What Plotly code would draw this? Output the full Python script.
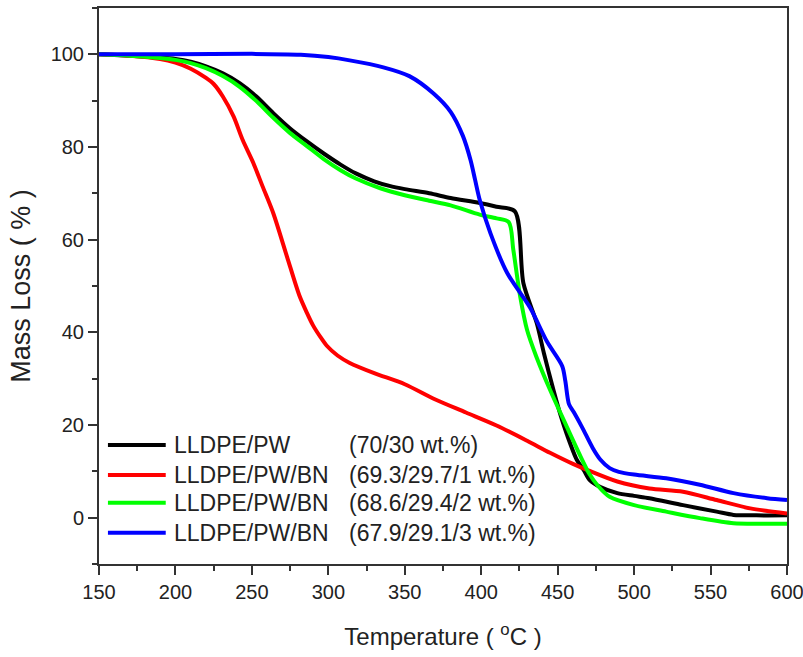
import plotly.graph_objects as go

# ---------------- data ----------------
temp_black = [150, 170, 190, 200, 210, 220, 231, 242, 253, 264, 275, 286, 297, 308, 318, 330, 340, 350, 366, 380,
              399, 410, 422, 427.6, 436.3, 441, 447.2, 452, 456, 462.5, 467, 471, 478, 489, 500, 510, 532, 554,
              565, 580, 600]
mass_black = [100, 99.7, 99.3, 99.0, 98.4, 97.4, 95.9, 93.8, 90.9, 87.3, 84.0, 81.2, 78.6, 76.2, 74.3, 72.6, 71.6,
              70.9, 70.0, 69.0, 67.9, 67.1, 66.1, 50.6, 42.0, 35.5, 27.6, 22.0, 18.0, 12.5, 10.3, 8.1, 6.6, 5.3,
              4.7, 4.2, 2.7, 1.3, 0.6, 0.5, 0.5]

temp_red = [150, 170, 190, 200, 210, 220, 225, 231, 238, 244, 251, 257, 264, 273, 281, 286, 290, 295, 299, 306,
            314, 330, 350, 370, 390, 410, 430, 445, 460, 470, 489, 510, 532, 554, 576, 600]
mass_red = [100, 99.7, 99.0, 98.2, 96.9, 94.9, 93.6, 90.9, 86.6, 81.5, 76.5, 71.5, 65.7, 56.3, 48.0, 44.2, 41.5,
            38.9, 37.1, 35.0, 33.4, 31.2, 28.8, 25.5, 22.7, 19.9, 16.6, 14.0, 11.6, 10.2, 7.8, 6.3, 5.6, 3.8,
            2.0, 0.9]

temp_green = [150, 170, 190, 200, 210, 220, 231, 242, 253, 264, 275, 286, 297, 308, 318, 334, 350, 366, 380, 399,
              410, 418, 421, 425.5, 430, 436, 445, 456, 465, 471, 476, 484, 500, 521, 543, 565, 585, 600]
mass_green = [100, 99.7, 99.2, 98.8, 98.1, 97.0, 95.3, 93.0, 89.9, 86.3, 83.0, 80.2, 77.4, 75.0, 73.2, 71.1, 69.6,
              68.4, 67.4, 65.4, 64.6, 63.8, 57.8, 47.7, 40.5, 34.8, 27.6, 19.6, 13.2, 9.3, 7.0, 4.5, 2.7, 1.3,
              -0.1, -1.2, -1.3, -1.3]

temp_blue = [150, 200, 250, 282, 300, 314, 336, 353, 369, 380, 388, 393, 396, 399, 406, 417, 432, 443, 453, 455,
             457.4, 460.5, 466, 473, 478, 484, 490, 500, 521, 543, 565, 587, 600]
mass_blue = [100, 100, 100.1, 99.9, 99.4, 98.7, 97.2, 95.3, 91.5, 87.6, 82.4, 77.2, 72.9, 68.6, 61.4, 52.8, 45.3,
             38.0, 32.7, 29.5, 24.5, 22.8, 19.5, 15.0, 12.5, 10.7, 9.9, 9.3, 8.5, 7.1, 5.3, 4.2, 3.8]

series_names = ["LLDPE/PW", "LLDPE/PW/BN", "LLDPE/PW/BN", "LLDPE/PW/BN"]
compositions = ["(70/30 wt.%)", "(69.3/29.7/1 wt.%)", "(68.6/29.4/2 wt.%)", "(67.9/29.1/3 wt.%)"]
colors = ["#000000", "#ff0000", "#00ff00", "#0000ff"]
temps = [temp_black, temp_red, temp_green, temp_blue]
masses = [mass_black, mass_red, mass_green, mass_blue]

x_ticks = [150, 200, 250, 300, 350, 400, 450, 500, 550, 600]
y_ticks = [0, 20, 40, 60, 80, 100]

x_title = "Temperature ( <sup>o</sup>C )"
y_title = "Mass Loss ( % )"

# ---------------- figure ----------------
FONT = "Liberation Sans, Arial, sans-serif"
TXT = "#222222"

fig = go.Figure()
for t, m, c, n, comp in zip(temps, masses, colors, series_names, compositions):
    fig.add_trace(go.Scatter(x=t, y=m, mode="lines", name=f"{n} {comp}",
                             line=dict(color=c, width=4, shape="spline", smoothing=0.8),
                             showlegend=False))

# manual legend (long line samples like the reference)
row_y = [0.214, 0.160, 0.110, 0.056]
for ry, c, n, comp in zip(row_y, colors, series_names, compositions):
    fig.add_shape(type="line", xref="paper", yref="paper", x0=0.013, x1=0.097, y0=ry, y1=ry,
                  line=dict(color=c, width=4))
    fig.add_annotation(xref="paper", yref="paper", x=0.106, y=ry, text=n, showarrow=False,
                       xanchor="left", yanchor="middle", font=dict(family=FONT, size=23, color=TXT))
    fig.add_annotation(xref="paper", yref="paper", x=0.360, y=ry, text=comp, showarrow=False,
                       xanchor="left", yanchor="middle", font=dict(family=FONT, size=23, color=TXT))

axis_common = dict(showline=True, linecolor="#333333", linewidth=2, mirror=True,
                   ticks="outside", ticklen=9, tickwidth=2, tickcolor="#333333",
                   showgrid=False, zeroline=False, ticklabeloverflow="allow",
                   tickfont=dict(family=FONT, size=20, color=TXT))

fig.update_xaxes(range=[150, 600], tickmode="array", tickvals=x_ticks,
                 ticktext=[str(v) for v in x_ticks],
                 minor=dict(ticks="outside", ticklen=5, tickwidth=2, tickcolor="#333333",
                            tickmode="linear", dtick=25, tick0=150),
                 title=dict(text=x_title, font=dict(family=FONT, size=24, color=TXT), standoff=26),
                 **axis_common)
fig.update_yaxes(range=[-10, 110], tickmode="array", tickvals=y_ticks,
                 ticktext=[str(v) for v in y_ticks],
                 minor=dict(ticks="outside", ticklen=5, tickwidth=2, tickcolor="#333333",
                            tickmode="linear", dtick=10, tick0=0),
                 title=dict(text=y_title, font=dict(family=FONT, size=27, color=TXT), standoff=12),
                 **axis_common)

fig.update_layout(width=803, height=657, margin=dict(l=99, r=16, t=8, b=93, autoexpand=False),
                  plot_bgcolor="white", paper_bgcolor="white", showlegend=False,
                  font=dict(family=FONT, color=TXT))

fig.write_html("out.html")
